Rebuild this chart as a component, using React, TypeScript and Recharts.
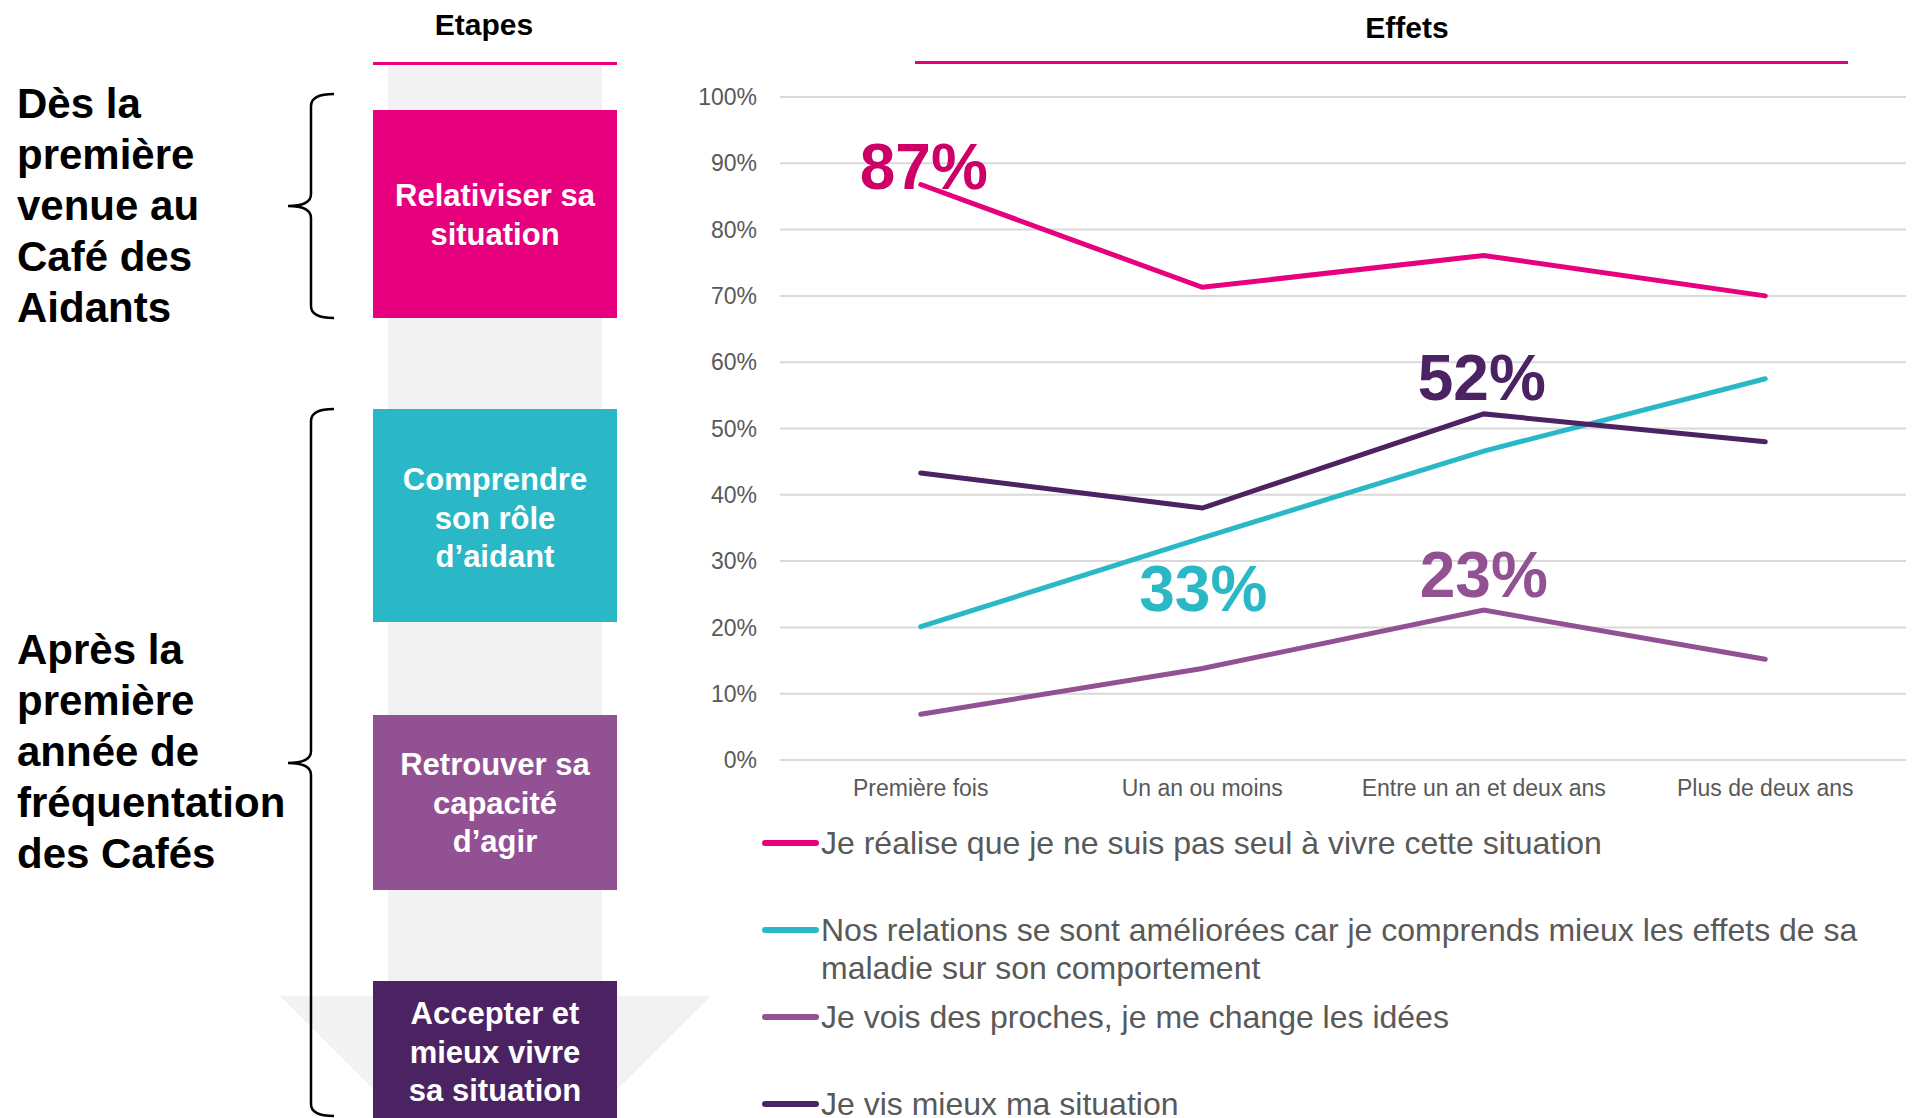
import { LineChart, Line, XAxis, YAxis, CartesianGrid, Legend } from "recharts";

const FONT = '"Liberation Sans", Arial, sans-serif';

// categories and series values (%)
const categories = ["Première fois", "Un an ou moins", "Entre un an et deux ans", "Plus de deux ans"];
const seulValues = [86.8, 71.3, 76.1, 70.0];
const relationsValues = [20.1, 33.5, 46.6, 57.5];
const prochesValues = [6.9, 13.8, 22.6, 15.2];
const mieuxValues = [43.3, 38.0, 52.2, 48.0];
const yTicks = [0, 10, 20, 30, 40, 50, 60, 70, 80, 90, 100];

const seriesNames = {
  seul: "Je réalise que je ne suis pas seul à vivre cette situation",
  relations: "Nos relations se sont améliorées car je comprends mieux les effets de sa|maladie sur son comportement",
  proches: "Je vois des proches, je me change les idées",
  mieux: "Je vis mieux ma situation",
};

const data = categories.map((c, i) => ({
  cat: c,
  seul: seulValues[i],
  relations: relationsValues[i],
  proches: prochesValues[i],
  mieux: mieuxValues[i],
}));

// highlighted value labels
const highlightText = { seul: "87%", relations: "33%", proches: "23%", mieux: "52%" };
const highlightIndex = { seul: 0, relations: 1, proches: 2, mieux: 2 };

const SERIES = [
  { key: "seul", color: "#E6007E", labelColor: "#CC0066", dx: 3, dy: 4 },
  { key: "relations", color: "#2BB8C6", labelColor: "#2BB8C6", dx: 1, dy: 73 },
  { key: "proches", color: "#925192", labelColor: "#925192", dx: 0, dy: -13 },
  { key: "mieux", color: "#4B2262", labelColor: "#4B2262", dx: -2, dy: -14 },
] as const;

// left panel text
const stages = [
  { lines: ["Relativiser sa", "situation"], color: "#E6007E", top: 110, bottom: 318, base: 206 },
  { lines: ["Comprendre", "son rôle", "d’aidant"], color: "#2BB8C6", top: 409, bottom: 622, base: 490 },
  { lines: ["Retrouver sa", "capacité", "d’agir"], color: "#925192", top: 715, bottom: 890, base: 775 },
  { lines: ["Accepter et", "mieux vivre", "sa situation"], color: "#4B2262", top: 981, bottom: 1118, base: 1024 },
];
const periodA = ["Dès la", "première", "venue au", "Café des", "Aidants"];
const periodB = ["Après la", "première", "année de", "fréquentation", "des Cafés"];

function brace(top: number, mid: number, bottom: number) {
  const x = 311;
  return `M334,${top} Q${x},${top} ${x},${top + 12} L${x},${mid - 12} Q${x},${mid} 288,${mid} Q${x},${mid} ${x},${mid + 12} L${x},${bottom - 12} Q${x},${bottom} 334,${bottom}`;
}

function Panel() {
  return (
    <svg width={1919} height={1118} style={{ position: "absolute", left: 0, top: 0 }} fontFamily={FONT}>
      <polygon points="388,66 602,66 602,996 711,996 495.5,1211 280,996 388,996" fill="#F2F2F2" />
      <text x={484} y={35} textAnchor="middle" fontSize={30} fontWeight="bold" fill="#000">Etapes</text>
      <rect x={373} y={62} width={244} height={3} fill="#E6007E" />
      <text x={1407} y={38} textAnchor="middle" fontSize={30} fontWeight="bold" fill="#000">Effets</text>
      <rect x={915} y={61} width={933} height={3} fill="#E6007E" />
      {stages.map((s) => (
        <g key={s.lines[0]}>
          <rect x={373} y={s.top} width={244} height={s.bottom - s.top} fill={s.color} />
          <text textAnchor="middle" fontSize={31} fontWeight="bold" fill="#fff">
            {s.lines.map((l, i) => (
              <tspan key={l} x={495} y={s.base + i * 38.5}>{l}</tspan>
            ))}
          </text>
        </g>
      ))}
      <text fontSize={42} fontWeight="bold" fill="#000">
        {periodA.map((l, i) => (
          <tspan key={l} x={17} y={118 + i * 51}>{l}</tspan>
        ))}
      </text>
      <text fontSize={42} fontWeight="bold" fill="#000">
        {periodB.map((l, i) => (
          <tspan key={l} x={17} y={664 + i * 51}>{l}</tspan>
        ))}
      </text>
      <path d={brace(94, 206, 318)} fill="none" stroke="#000" strokeWidth={2.5} />
      <path d={brace(409, 763, 1116)} fill="none" stroke="#000" strokeWidth={2.5} />
    </svg>
  );
}

function makeLabel(key: string, color: string, dx: number, dy: number) {
  return (props: any) => {
    const { x, y, index } = props;
    if (index !== highlightIndex[key as keyof typeof highlightIndex]) return <g key={`l-${key}-${index}`} />;
    return (
      <text
        key={`l-${key}-${index}`}
        x={x + dx}
        y={y + dy}
        textAnchor="middle"
        fontSize={64}
        fontWeight="bold"
        fill={color}
        fontFamily={FONT}
      >
        {highlightText[key as keyof typeof highlightText]}
      </text>
    );
  };
}

function LegendBox() {
  return (
    <div style={{ fontFamily: FONT, fontSize: 32, color: "#595959", lineHeight: "38px" }}>
      {SERIES.map((s) => (
        <div key={s.key} style={{ height: 87, display: "flex", alignItems: "flex-start" }}>
          <div style={{ width: 57, height: 6, borderRadius: 3, background: s.color, marginTop: 16, marginRight: 2, flexShrink: 0 }} />
          <div style={{ whiteSpace: "nowrap" }}>
            {seriesNames[s.key].split("|").map((t) => (
              <div key={t}>{t}</div>
            ))}
          </div>
        </div>
      ))}
    </div>
  );
}

export default function App() {
  return (
    <div style={{ position: "absolute", left: 0, top: 0, width: 1919, height: 1118, background: "#fff", overflow: "hidden" }}>
      <Panel />
      <div style={{ position: "absolute", left: 0, top: 0 }}>
        <LineChart width={1919} height={1118} data={data} margin={{ top: 97, right: 13, left: 720, bottom: 318 }}>
          <CartesianGrid vertical={false} stroke="#D9D9D9" strokeWidth={2} />
          <XAxis
            dataKey="cat"
            height={40}
            padding={{ left: 140.75, right: 140.75 }}
            axisLine={false}
            tickLine={false}
            tickSize={0}
            tickMargin={20}
            tick={{ fill: "#595959", fontSize: 23, fontFamily: FONT }}
          />
          <YAxis
            width={60}
            domain={[0, 100]}
            ticks={yTicks}
            tickFormatter={(v) => `${v}%`}
            axisLine={false}
            tickLine={false}
            tickSize={0}
            tickMargin={23}
            tick={{ fill: "#595959", fontSize: 23, fontFamily: FONT }}
          />
          <Legend
            layout="horizontal"
            verticalAlign="middle"
            align="center"
            wrapperStyle={{ left: 762, top: 824, width: 1150 }}
            content={() => <LegendBox />}
          />
          {SERIES.map((s) => (
            <Line
              key={s.key}
              dataKey={s.key}
              name={s.key}
              type="linear"
              stroke={s.color}
              strokeWidth={5}
              strokeLinecap="round"
              dot={false}
              activeDot={false}
              isAnimationActive={false}
              label={makeLabel(s.key, s.labelColor, s.dx, s.dy)}
            />
          ))}
        </LineChart>
      </div>
    </div>
  );
}
